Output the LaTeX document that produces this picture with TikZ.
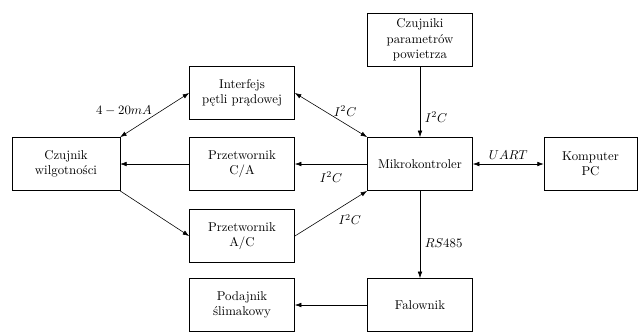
\documentclass[tikz,border=0pt]{standalone}
\usetikzlibrary{arrows.meta}
\begin{document}
\begin{tikzpicture}[x=0.78pt,y=-0.78pt,
  blk/.style={draw,line width=0.5pt,minimum width=82pt,minimum height=41.5pt,align=center,inner sep=1pt,font=\normalsize},
  conn/.style={line width=0.45pt,-{Latex[length=5pt,width=3.6pt]}},
  bconn/.style={line width=0.45pt,{Latex[length=5pt,width=3.6pt]}-{Latex[length=5pt,width=3.6pt]}},
  lbl/.style={font=\normalsize,inner sep=1pt}]
\useasboundingbox (0,0) rectangle (638,331);
\node[blk,minimum width=84pt] (wilg) at (66,164) {Czujnik\\wilgotności};
\node[blk] (interf) at (242,93) {Interfejs\\pętli prądowej};
\node[blk] (ca) at (242,164) {Przetwornik\\C/A};
\node[blk] (ac) at (242,236) {Przetwornik\\A/C};
\node[blk] (pod) at (242,305) {Podajnik\\ślimakowy};
\node[blk] (mikro) at (420,164) {Mikrokontroler};
\node[blk] (czp) at (420,40) {Czujniki\\parametrów\\powietrza};
\node[blk,minimum width=72.5pt] (komp) at (590.5,164) {Komputer\\PC};
\node[blk] (fal) at (420,305) {Falownik};

\draw[conn] (czp.south) -- node[lbl,right=2.5pt,yshift=-12pt] {$I^2C$} (mikro.north);
\draw[bconn] (interf.east) -- node[lbl,pos=0.5,above right,xshift=1pt,yshift=-2pt] {$I^2C$} (mikro.north west);
\draw[bconn] (wilg.north east) -- node[lbl,pos=0.5,above left,xshift=-1pt,yshift=-2pt] {$4-20mA$} (interf.west);
\draw[conn] (wilg.south east) -- (ac.west);
\draw[conn] (ac.east) -- node[lbl,pos=0.6,below right,xshift=-1pt,yshift=-3pt] {$I^2C$} (mikro.south west);
\draw[conn] (mikro.west) -- node[lbl,below=5pt] {$I^2C$} (ca.east);
\draw[conn] (ca.west) -- (wilg.east);
\draw[bconn] (mikro.east) -- node[lbl,above=2pt] {$UART$} (komp.west);
\draw[conn] (mikro.south) -- node[lbl,right=2.5pt,yshift=-7pt] {$RS485$} (fal.north);
\draw[conn] (fal.west) -- (pod.east);
\end{tikzpicture}
\end{document}
